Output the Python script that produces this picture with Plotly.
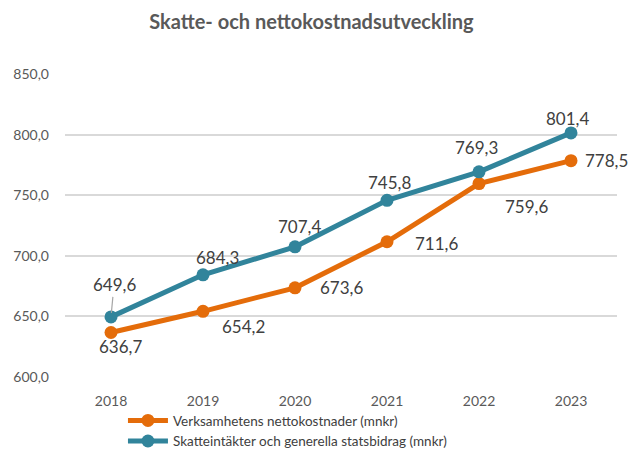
import plotly.graph_objects as go

years = [2018, 2019, 2020, 2021, 2022, 2023]
nettokostnader = [636.7, 654.2, 673.6, 711.6, 759.6, 778.5]
skatteintakter = [649.6, 684.3, 707.4, 745.8, 769.3, 801.4]
name_cost = "Verksamhetens nettokostnader (mnkr)"
name_tax = "Skatteintäkter och generella statsbidrag (mnkr)"
title = "Skatte- och nettokostnadsutveckling"
y_ticks = [600, 650, 700, 750, 800, 850]

orange = "#E46C0A"
teal = "#31849B"
font_family = "Lato, 'Open Sans', sans-serif"

fig = go.Figure()
fig.add_trace(go.Scatter(x=years, y=nettokostnader, name=name_cost, mode="lines+markers",
                         line=dict(color=orange, width=5), marker=dict(size=13, color=orange)))
fig.add_trace(go.Scatter(x=years, y=skatteintakter, name=name_tax, mode="lines+markers",
                         line=dict(color=teal, width=5), marker=dict(size=13, color=teal)))

def fmt(v):
    return f"{v:.1f}".replace(".", ",")

cost_offsets = [(9, 14), (40, 15), (46, 0), (49, 2), (47, 23), (35, 0)]
tax_offsets = [(3, -32), (14, -17), (4, -20), (2, -18), (-3, -24), (-4, -14)]

label_font = dict(size=17, color="#404040", family=font_family)
annotations = []
for x, v, (dx, dy) in zip(years, nettokostnader, cost_offsets):
    annotations.append(dict(x=x, y=v, text=fmt(v), showarrow=False, xshift=dx, yshift=-dy,
                            font=label_font))
for i, (x, v, (dx, dy)) in enumerate(zip(years, skatteintakter, tax_offsets)):
    if i == 0:
        annotations.append(dict(x=x, y=v, text=fmt(v), showarrow=True, arrowhead=0,
                                arrowwidth=1.2, arrowcolor="#A6A6A6", ax=dx, ay=dy,
                                standoff=4, font=label_font))
    else:
        annotations.append(dict(x=x, y=v, text=fmt(v), showarrow=False, xshift=dx, yshift=-dy,
                                font=label_font))

fig.update_layout(
    width=640, height=470,
    margin=dict(l=57, r=31, t=66, b=101, autoexpand=False),
    paper_bgcolor="white", plot_bgcolor="white",
    separators=", ",
    title=dict(text="<b>" + title + "</b>", x=0.474, xanchor="center", y=1 - 14 / 470,
               yanchor="middle",
               font=dict(size=20, color="#595959", family=font_family)),
    xaxis=dict(range=[2017.5, 2023.5], tickmode="array", tickvals=years,
               ticktext=[str(y) for y in years], showgrid=False, zeroline=False,
               showline=False, ticks="", automargin=False,
               tickfont=dict(size=14, color="#595959", family=font_family),
               ticklabelstandoff=14),
    yaxis=dict(range=[600, 850], tickmode="array", tickvals=y_ticks, tickformat=".1f",
               showgrid=True, gridcolor="#D9D9D9", gridwidth=1.5, zeroline=False,
               showline=False, ticks="", automargin=False,
               tickfont=dict(size=14, color="#595959", family=font_family),
               ticklabelstandoff=15),
    legend=dict(orientation="v", x=0.105, xanchor="left", y=-0.093, yanchor="top",
                font=dict(size=13.5, color="#404040", family=font_family),
                bgcolor="rgba(0,0,0,0)", itemwidth=40, tracegroupgap=0),
    annotations=annotations,
    showlegend=True,
)

fig.write_html("out.html")
